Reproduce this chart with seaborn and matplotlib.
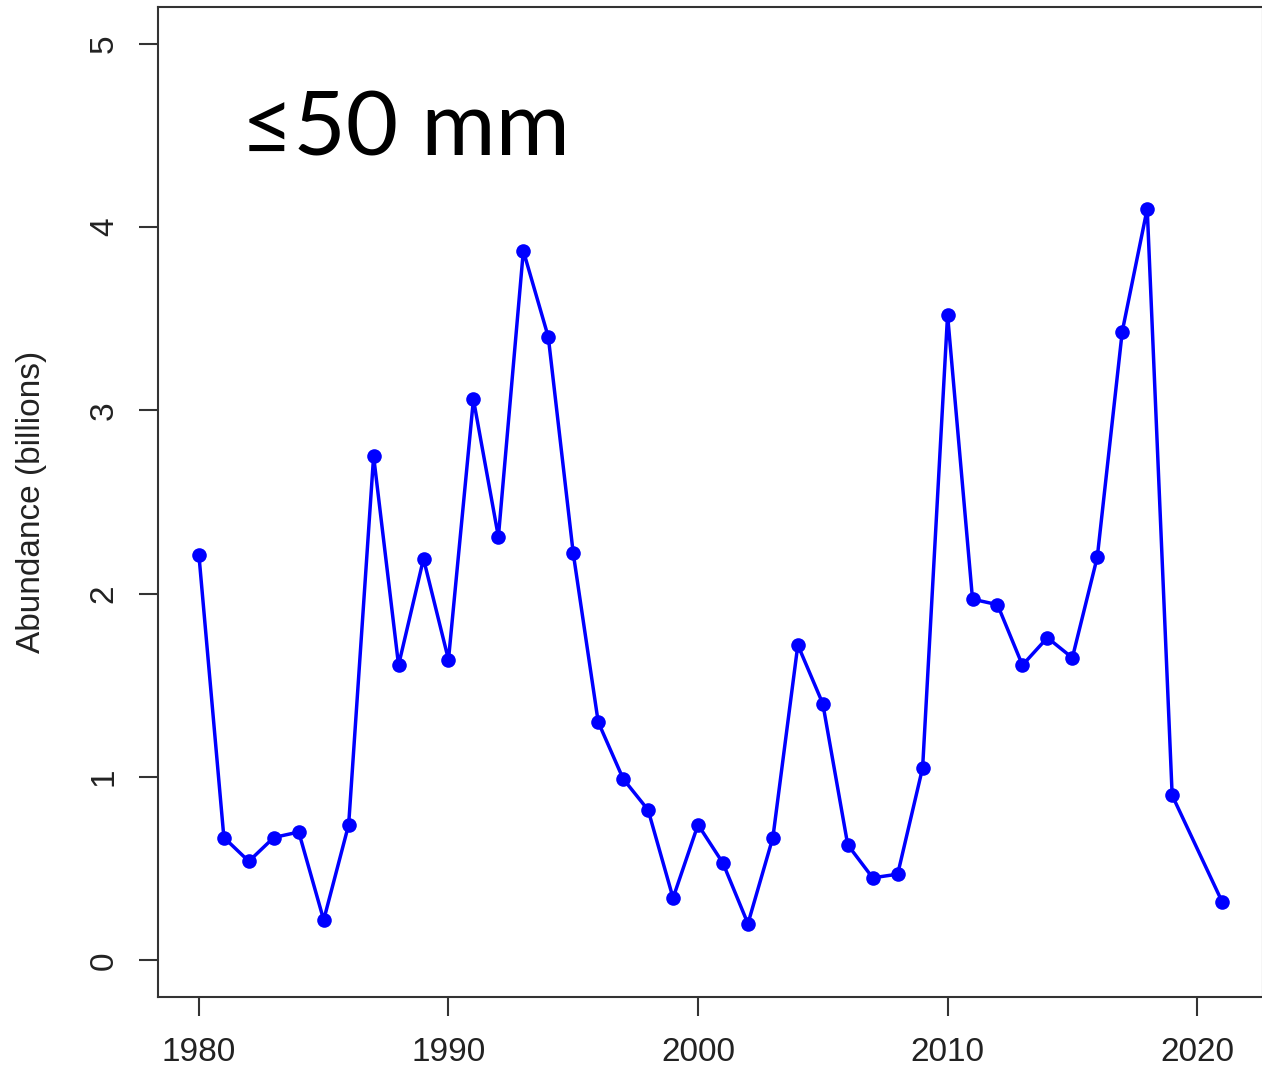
import pandas as pd
import seaborn as sns
import matplotlib.pyplot as plt

years = [1980, 1981, 1982, 1983, 1984, 1985, 1986, 1987, 1988, 1989,
         1990, 1991, 1992, 1993, 1994, 1995, 1996, 1997, 1998, 1999,
         2000, 2001, 2002, 2003, 2004, 2005, 2006, 2007, 2008, 2009,
         2010, 2011, 2012, 2013, 2014, 2015, 2016, 2017, 2018, 2019,
         2021]
abundance = [2.21, 0.67, 0.54, 0.67, 0.70, 0.22, 0.74, 2.75, 1.61, 2.19,
             1.64, 3.06, 2.31, 3.87, 3.40, 2.22, 1.30, 0.99, 0.82, 0.34,
             0.74, 0.53, 0.20, 0.67, 1.72, 1.40, 0.63, 0.45, 0.47, 1.05,
             3.52, 1.97, 1.94, 1.61, 1.76, 1.65, 2.20, 3.43, 4.10, 0.90,
             0.32]
x_ticks = [1980, 1990, 2000, 2010, 2020]
y_ticks = [0, 1, 2, 3, 4, 5]

df = pd.DataFrame({'year': years, 'abundance': abundance})

sns.set_style('white')
plt.rcParams['font.family'] = ['Liberation Sans', 'DejaVu Sans']

fig = plt.figure(figsize=(12.62, 10.81), dpi=100)
ax = fig.add_axes([158/1262, 84/1081, 1105/1262, 990/1081])

sns.lineplot(data=df, x='year', y='abundance', color='#0000ff', lw=2.5,
             marker='o', markersize=10.5, markeredgewidth=0, ax=ax)

ax.set_xlim(1978.36, 2022.64)
ax.set_ylim(-0.2, 5.2)
ax.set_xticks(x_ticks)
ax.set_yticks(y_ticks)
ax.set_xticklabels([str(t) for t in x_ticks], fontsize=24, color='#222222')
ax.set_yticklabels([str(t) for t in y_ticks], fontsize=24, color='#222222',
                   rotation=90, va='center')
ax.tick_params(axis='both', direction='out', length=13.5, width=1.5,
               color='#333333', bottom=True, left=True)
ax.tick_params(axis='x', pad=15)
ax.tick_params(axis='y', pad=14)
for s in ax.spines.values():
    s.set_visible(True)
    s.set_color('#333333')
    s.set_linewidth(1.5)

ax.set_xlabel('')
ax.set_ylabel('Abundance (billions)', fontsize=24, color='#222222', labelpad=30)

ax.text(0.075, 0.875, '≤50 mm', transform=ax.transAxes, fontsize=65,
        family=['Lato', 'DejaVu Sans'], color='black', va='center', ha='left')

fig.savefig('out.png', dpi=100)
